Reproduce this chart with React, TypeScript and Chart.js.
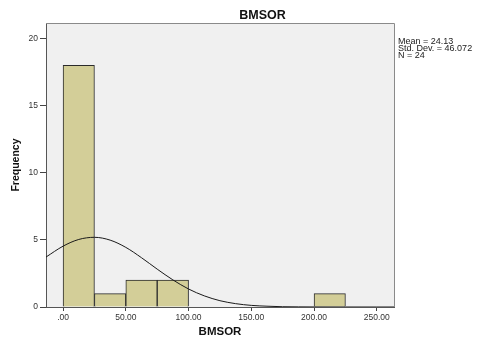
import React, { useEffect, useRef } from 'react';
import { Chart, registerables } from 'chart.js';

Chart.register(...registerables);

// ---- data ----
const binCenters = [12.5, 37.5, 62.5, 87.5, 212.5];
const binCounts = [18, 1, 2, 2, 1];
const curveX = [-13.6, 0, 12.5, 25, 37.5, 50, 62.5, 75, 87.5, 100, 112.5, 125, 137.5, 150, 162.5, 175, 187.5, 200, 225, 250, 263.7];
const curveY = [3.72, 4.53, 5.03, 5.19, 4.98, 4.44, 3.67, 2.82, 2.02, 1.34, 0.83, 0.47, 0.25, 0.12, 0.06, 0.02, 0.01, 0.004, 0.0005, 0, 0];
const xTicks = [0, 50, 100, 150, 200, 250];
const yTicks = [0, 5, 10, 15, 20];
const chartTitle = 'BMSOR';
const xTitle = 'BMSOR';
const yTitle = 'Frequency';
const statLines = ['Mean = 24.13', 'Std. Dev. = 46.072', 'N = 24'];

const FONT = '"Liberation Sans", Arial, sans-serif';

const decoPlugin = {
  id: 'deco',
  beforeDraw(chart: any) {
    const { ctx, chartArea: a } = chart;
    ctx.save();
    ctx.fillStyle = '#F0F0F0';
    ctx.fillRect(a.left, a.top, a.right - a.left, a.bottom - a.top);
    ctx.restore();
  },
  afterDraw(chart: any) {
    const { ctx, chartArea: a } = chart;
    ctx.save();
    ctx.strokeStyle = '#8a8a8a';
    ctx.lineWidth = 1;
    ctx.beginPath();
    ctx.moveTo(a.left, a.top + 0.5);
    ctx.lineTo(a.right + 0.5, a.top + 0.5);
    ctx.lineTo(a.right + 0.5, a.bottom);
    ctx.stroke();

    ctx.fillStyle = '#111';
    ctx.font = `bold 12.5px ${FONT}`;
    ctx.textAlign = 'center';
    ctx.textBaseline = 'middle';
    ctx.fillText(chartTitle, 262.5, 15.5);

    ctx.font = `9px ${FONT}`;
    ctx.textAlign = 'left';
    ctx.fillStyle = '#222';
    statLines.forEach((t, i) => ctx.fillText(t, a.right + 4, 41.5 + i * 7));
    ctx.restore();
  },
};

export default function App() {
  const ref = useRef<HTMLCanvasElement | null>(null);
  useEffect(() => {
    if (!ref.current) return;
    Chart.defaults.font.family = FONT;
    const chart = new Chart(ref.current, {
      type: 'bar',
      data: {
        datasets: [
          {
            type: 'line',
            data: curveX.map((x, i) => ({ x, y: curveY[i] })),
            borderColor: '#1a1a1a',
            borderWidth: 1,
            pointRadius: 0,
            fill: false,
            cubicInterpolationMode: 'monotone',
            order: 1,
          } as any,
          {
            type: 'bar',
            data: binCenters.map((x, i) => ({ x, y: binCounts[i] })),
            backgroundColor: '#D3CE98',
            borderColor: '#2b2b2b',
            borderWidth: 1,
            barPercentage: 1,
            categoryPercentage: 1,
            order: 2,
          } as any,
        ],
      },
      options: {
        responsive: false,
        animation: false,
        layout: { padding: { left: 0, top: 23, right: 83, bottom: 0 } },
        plugins: { legend: { display: false }, tooltip: { enabled: false }, title: { display: false } },
        scales: {
          x: {
            type: 'linear',
            min: -13.6,
            max: 263.7,
            offset: false,
            afterBuildTicks: (s: any) => { s.ticks = xTicks.map((v) => ({ value: v })); },
            afterFit: (s: any) => { s.height = 35; },
            grid: { display: true, drawOnChartArea: false, drawTicks: true, tickLength: 4, color: '#444', offset: false },
            border: { display: true, color: '#555' },
            ticks: {
              autoSkip: false,
              maxRotation: 0,
              padding: 2,
              color: '#333',
              font: { size: 8.5, family: FONT },
              callback: (v: any) => (Number(v) === 0 ? '.00' : Number(v).toFixed(2)),
            },
            title: { display: true, text: xTitle, color: '#111', font: { size: 11.5, weight: 'bold', family: FONT }, padding: { top: 0, bottom: 3 } },
          },
          y: {
            type: 'linear',
            min: 0,
            max: 21.15,
            afterBuildTicks: (s: any) => { s.ticks = yTicks.map((v) => ({ value: v })); },
            afterFit: (s: any) => { s.width = 46; },
            grid: { display: true, drawOnChartArea: false, drawTicks: true, tickLength: 6, color: '#444' },
            border: { display: true, color: '#555' },
            ticks: { padding: 2, color: '#333', font: { size: 8.5, family: FONT } },
            title: { display: true, text: yTitle, color: '#111', font: { size: 10.5, weight: 'bold', family: FONT }, padding: { top: 10, bottom: 0 } },
          },
        },
      } as any,
      plugins: [decoPlugin],
    });
    return () => chart.destroy();
  }, []);
  return (
    <div style={{ position: 'absolute', left: 0, top: 0, width: 477, height: 342, background: '#fff' }}>
      <canvas ref={ref} width={477} height={342} style={{ display: 'block' }} />
    </div>
  );
}
